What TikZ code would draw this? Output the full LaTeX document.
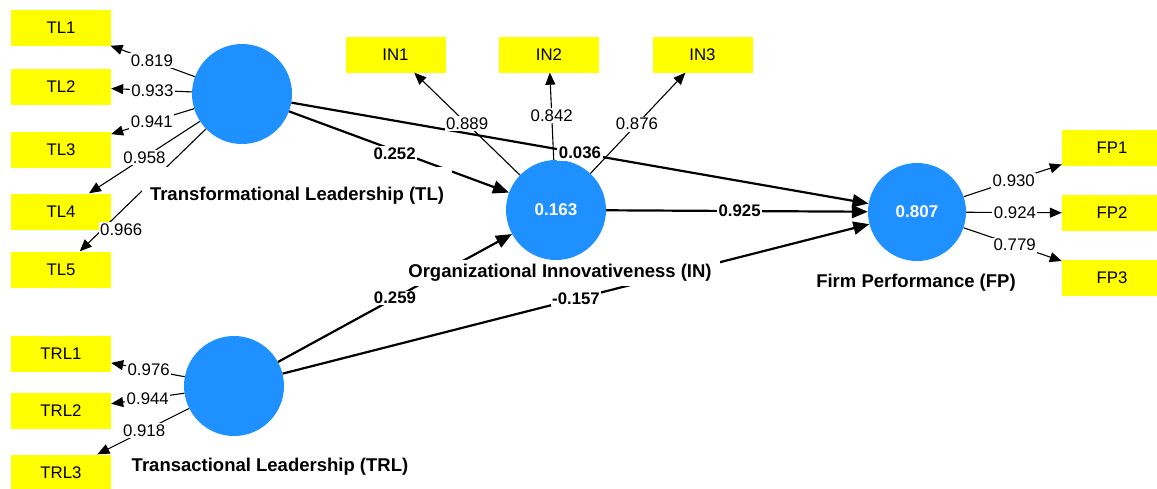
\documentclass[tikz,border=0pt]{standalone}
\usepackage{fontspec}
\setmainfont{Liberation Sans}
\usetikzlibrary{arrows.meta}
\definecolor{lvblue}{RGB}{30,144,255}
\definecolor{mvyellow}{RGB}{255,255,0}
\begin{document}
\begin{tikzpicture}[x=1pt,y=-1pt,
  lv/.style={circle,fill=lvblue,minimum size=100pt,inner sep=0pt,text=white,font=\fontsize{17}{20}\selectfont\bfseries},
  mv/.style={rectangle,fill=mvyellow,minimum width=100pt,minimum height=36pt,inner sep=0pt,font=\fontsize{16.8}{20}\selectfont},
  load/.style={line width=1.1pt,-{Triangle[length=12pt,width=10pt]}},
  struct/.style={line width=2.2pt,-{Triangle[length=16pt,width=13pt]}},
  lw/.style={fill=white,inner sep=1.5pt,font=\fontsize{16.8}{20}\selectfont},
  pw/.style={fill=white,inner sep=1.5pt,font=\fontsize{16.8}{20}\selectfont\bfseries},
  lvname/.style={fill=white,inner xsep=8pt,inner ysep=4pt,font=\fontsize{18.5}{22}\selectfont\bfseries}
]
\useasboundingbox[fill=white] (0,0) rectangle (1157,488);

% latent variables
\node[lv] (TL) at (242,94) {};
\node[lv] (IN) at (556,210) {0.163};
\node[lv] (TRL) at (234,386) {};
\node[lv,minimum size=98pt] (FP) at (917,212) {0.807};

% indicators
\node[mv] (TL1) at (61,27.5) {TL1};
\node[mv] (TL2) at (61,86.5) {TL2};
\node[mv] (TL3) at (61,149.5) {TL3};
\node[mv] (TL4) at (61,211.5) {TL4};
\node[mv] (TL5) at (61,269.5) {TL5};
\node[mv] (TRL1) at (61,353.5) {TRL1};
\node[mv] (TRL2) at (61,411) {TRL2};
\node[mv] (TRL3) at (61,472.5) {TRL3};
\node[mv] (IN1) at (395.5,54.5) {IN1};
\node[mv] (IN2) at (549,54.5) {IN2};
\node[mv] (IN3) at (702.5,54.5) {IN3};
\node[mv] (FP1) at (1112,148) {FP1};
\node[mv] (FP2) at (1112,213) {FP2};
\node[mv] (FP3) at (1112,278) {FP3};

% structural paths
\draw[struct] (TL) -- node[pw,pos=0.48,yshift=-3pt] (p1) {0.252} (IN);
\draw[struct] (TL) -- node[pw,pos=0.5] (p2) {0.036} (FP);
\draw[struct] (IN) -- node[pw,pos=0.51] (p3) {0.925} (FP);
\draw[struct] (TRL) -- node[pw,pos=0.5] (p4) {0.259} (IN);
\draw[struct] (TRL) -- node[pw,pos=0.5] (p5) {-0.157} (FP);

% outer loadings
\draw[load] (TL) -- node[lw,pos=0.51] (l1) {0.819} (TL1);
\draw[load] (TL) -- node[lw,pos=0.49] (l2) {0.933} (TL2);
\draw[load] (TL) -- node[lw,pos=0.51] (l3) {0.941} (TL3);
\draw[load] (TL) -- node[lw,pos=0.5] (l4) {0.958} (TL4);
\draw[load] (TL) -- node[lw,pos=0.79,xshift=15pt,yshift=-4pt] (l5) {0.966} (TL5);
\draw[load] (TRL) -- node[lw,pos=0.49] (l6) {0.976} (TRL1);
\draw[load] (TRL) -- node[lw,pos=0.5] (l7) {0.944} (TRL2);
\draw[load] (TRL) -- node[lw,pos=0.49] (l8) {0.918} (TRL3);
\draw[load] (IN) -- node[lw,pos=0.5] (l9) {0.889} (IN1);
\draw[load] (IN) -- node[lw,pos=0.51] (l10) {0.842} (IN2);
\draw[load] (IN) -- node[lw,pos=0.49] (l11) {0.876} (IN3);
\draw[load] (FP) -- node[lw,pos=0.51] (l12) {0.930} (FP1);
\draw[load] (FP) -- node[lw,pos=0.51] (l13) {0.924} (FP2);
\draw[load] (FP) -- node[lw,pos=0.52] (l14) {0.779} (FP3);

% latent names
\node[lvname,inner ysep=20pt] (TLn) at (297,196) {Transformational Leadership (TL)};
\node[lvname] (INn) at (560,273) {Organizational Innovativeness (IN)};
\node[lvname] (TRLn) at (270,467) {Transactional Leadership (TRL)};
\node[lvname] (FPn) at (916,283) {Firm Performance (FP)};
\end{tikzpicture}
\end{document}
